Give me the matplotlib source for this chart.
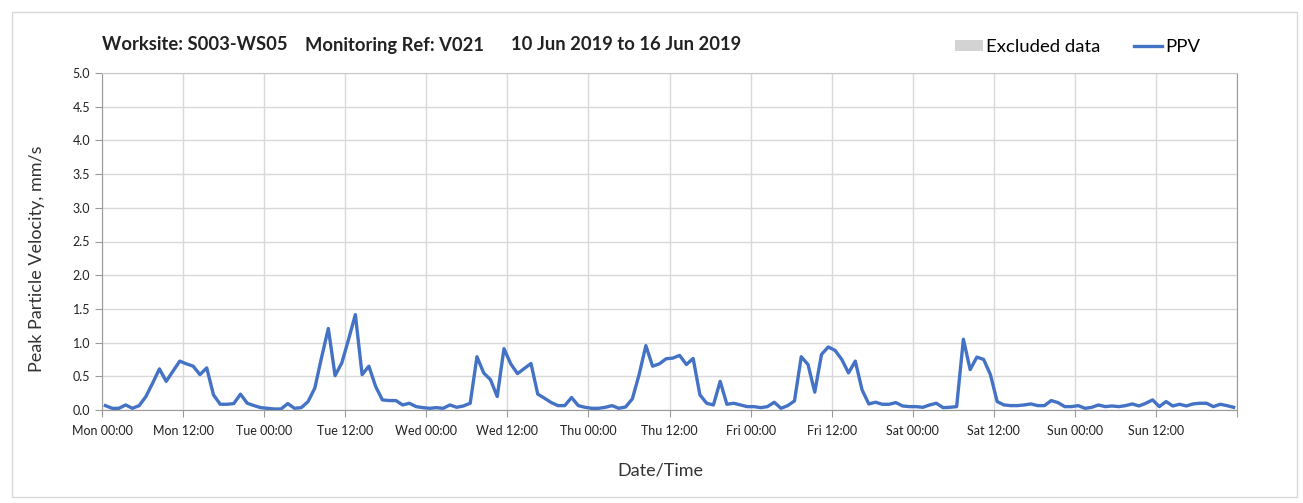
import matplotlib
matplotlib.use("Agg")
import matplotlib.pyplot as plt
from matplotlib.patches import Patch, Rectangle
from matplotlib.lines import Line2D
import numpy as np
import pandas as pd

plt.rcParams['font.family'] = ['Lato', 'DejaVu Sans']

# hourly PPV readings, Mon 10 Jun 2019 to Sun 16 Jun 2019
times = pd.date_range('2019-06-10 00:30', periods=168, freq='h')
ppv = [
    # Mon
    0.065, 0.025, 0.025, 0.075, 0.025, 0.065, 0.20, 0.40, 0.61, 0.425, 0.575, 0.725,
    0.685, 0.65, 0.525, 0.625, 0.225, 0.085, 0.085, 0.095, 0.235, 0.10, 0.065, 0.035,
    # Tue
    0.025, 0.015, 0.015, 0.095, 0.025, 0.035, 0.125, 0.325, 0.78, 1.21, 0.51, 0.70,
    1.05, 1.415, 0.525, 0.65, 0.35, 0.15, 0.14, 0.14, 0.075, 0.10, 0.05, 0.035,
    # Wed
    0.025, 0.035, 0.025, 0.075, 0.04, 0.06, 0.10, 0.79, 0.55, 0.45, 0.20, 0.91,
    0.685, 0.54, 0.615, 0.69, 0.235, 0.175, 0.11, 0.065, 0.065, 0.185, 0.065, 0.04,
    # Thu
    0.025, 0.025, 0.04, 0.065, 0.025, 0.045, 0.165, 0.525, 0.955, 0.65, 0.685, 0.76,
    0.77, 0.81, 0.675, 0.765, 0.225, 0.10, 0.075, 0.425, 0.085, 0.10, 0.075, 0.05,
    # Fri
    0.05, 0.035, 0.05, 0.115, 0.025, 0.065, 0.135, 0.79, 0.675, 0.265, 0.825, 0.935,
    0.885, 0.75, 0.55, 0.725, 0.30, 0.09, 0.115, 0.085, 0.085, 0.11, 0.06, 0.05,
    # Sat
    0.05, 0.04, 0.075, 0.10, 0.035, 0.04, 0.05, 1.05, 0.60, 0.785, 0.75, 0.525,
    0.125, 0.075, 0.065, 0.065, 0.075, 0.09, 0.065, 0.065, 0.14, 0.11, 0.05, 0.05,
    # Sun
    0.065, 0.025, 0.04, 0.075, 0.05, 0.06, 0.05, 0.065, 0.09, 0.06, 0.10, 0.15,
    0.05, 0.125, 0.06, 0.085, 0.06, 0.09, 0.10, 0.10, 0.05, 0.085, 0.065, 0.04,
]
start = pd.Timestamp('2019-06-10 00:00')
end = pd.Timestamp('2019-06-17 00:00')

fig = plt.figure(figsize=(13.03, 5.03), dpi=100)
ax = fig.add_axes([102 / 1303, 1 - 410 / 503, 1135 / 1303, 337 / 503])

# outer frame
fig.patches.append(Rectangle((12 / 1303, 6 / 503), 1285 / 1303, 485 / 503, transform=fig.transFigure,
                             fill=False, edgecolor='#d9d9d9', linewidth=1))

ax.plot(times, ppv, color='#4472C4', linewidth=2.4, solid_joinstyle='round')

ax.set_xlim(start, end)
ax.set_ylim(0, 5)
ax.set_yticks(np.arange(0, 5.01, 0.5))
ax.set_yticklabels([f'{v:.1f}' for v in np.arange(0, 5.01, 0.5)])
xt = pd.date_range(start, end, freq='12h')
ax.set_xticks(xt)
ax.set_xticklabels([t.strftime('%a %H:%M') for t in xt[:-1]] + [''])

ax.grid(True, color='#d9d9d9', linewidth=1)
ax.set_axisbelow(True)
for s in ['left', 'bottom', 'right']:
    ax.spines[s].set_color('#9a9a9a')
ax.spines['top'].set_color('#c8c8c8')
ax.tick_params(axis='both', colors='#9a9a9a', length=5, labelcolor='#222222', labelsize=9)
ax.tick_params(axis='x', pad=6)

fig.text(37 / 1303, 1 - 259 / 503, 'Peak Particle Velocity, mm/s', rotation=90, fontsize=13,
         ha='center', va='center', color='#333333')
fig.text(660 / 1303, 1 - 470 / 503, 'Date/Time', fontsize=13, ha='center', va='center', color='#333333')

ty = 1 - 45 / 503
fig.text(102 / 1303, ty, 'Worksite: S003-WS05', fontsize=13.2, fontweight='bold', va='center', color='#222222')
fig.text(305 / 1303, ty, 'Monitoring Ref: V021', fontsize=13.2, fontweight='bold', va='center', color='#222222')
fig.text(511 / 1303, ty, '10 Jun 2019 to 16 Jun 2019', fontsize=13.2, fontweight='bold', va='center',
         color='#222222')

handles = [Patch(facecolor='#d3d3d3', edgecolor='none'),
           Line2D([], [], color='#4472C4', linewidth=2.4)]
fig.legend(handles, ['Excluded data', 'PPV'], loc='center left', bbox_to_anchor=(938 / 1303, 1 - 47 / 503),
           ncol=2, frameon=False, fontsize=13.3, handlelength=1.55, handletextpad=0.15, columnspacing=1.8,
           handleheight=0.55)

fig.savefig('out.png', dpi=100)
